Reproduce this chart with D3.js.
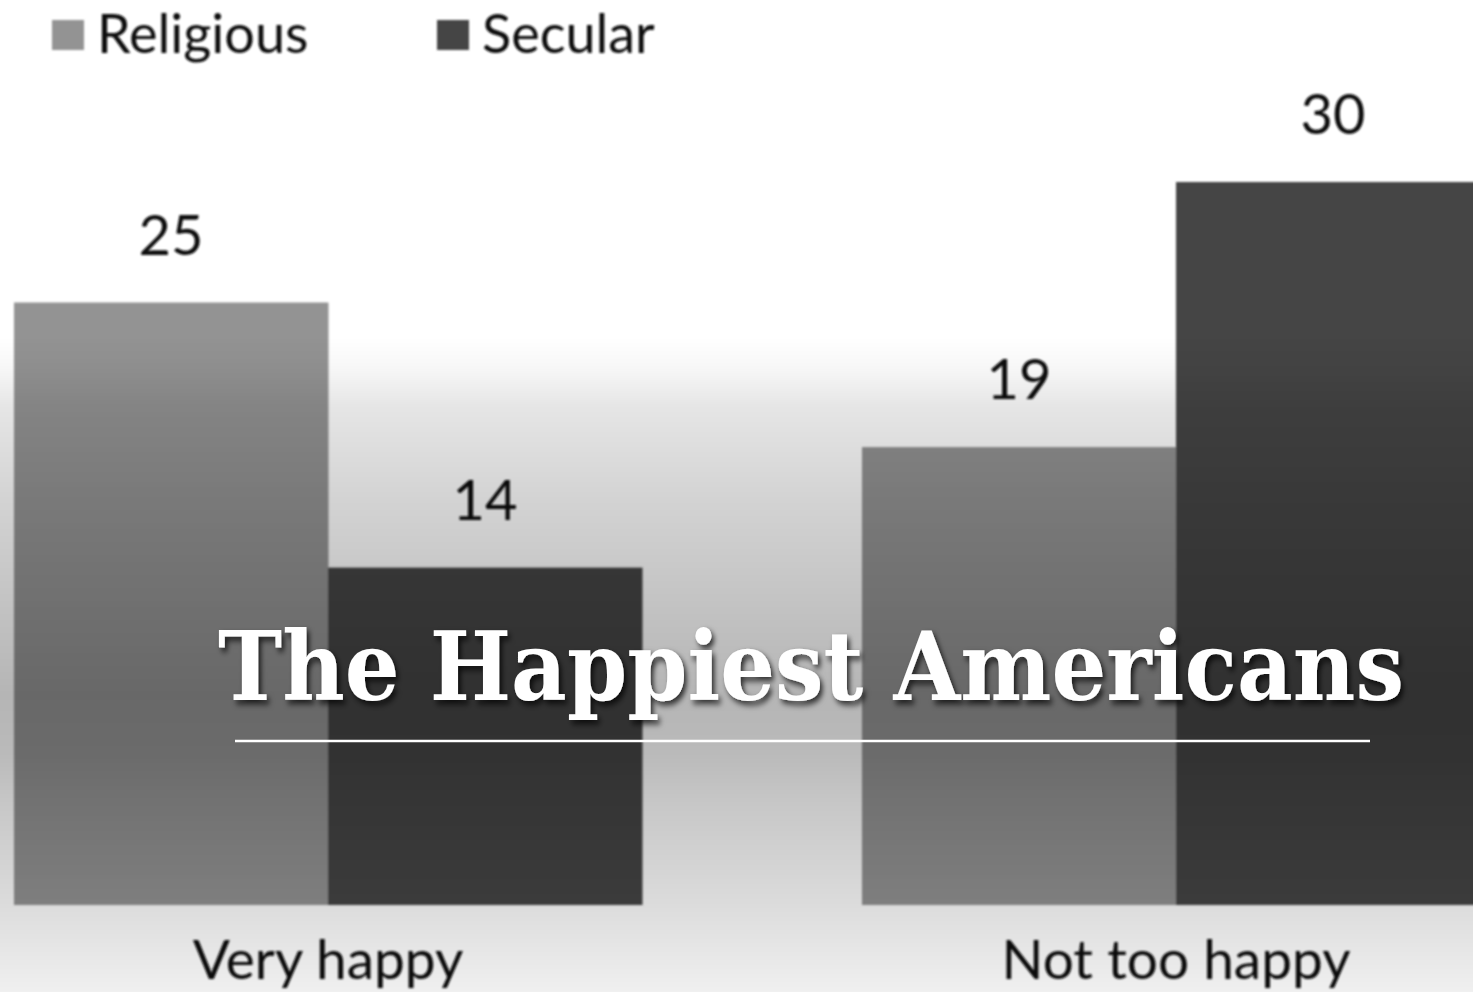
<!DOCTYPE html>
<html>
<head>
<meta charset="utf-8">
<script src="https://cdn.jsdelivr.net/npm/d3@7"></script>
<style>
  html, body { margin: 0; padding: 0; background: #fff; overflow: hidden; }
  svg { display: block; }
  .lbl { font-family: Lato, "Open Sans", sans-serif; fill: #111; }
</style>
</head>
<body>
<div id="chart"></div>
<script>
// Survey responses (%)
const categories = ["Very happy", "Not too happy"];
const seriesNames = ["Religious", "Secular"];
const religious = [25, 19];
const secular = [14, 30];
const seriesColors = ["#939393", "#454545"];
const title = "The Happiest Americans";

const W = 1473, H = 992;
const base = 905;

const svg = d3.select("#chart").append("svg")
  .attr("width", W).attr("height", H);

const defs = svg.append("defs");
defs.append("filter").attr("id", "soft")
  .append("feGaussianBlur").attr("stdDeviation", 1.1);
const shadow = defs.append("filter").attr("id", "shadow")
  .attr("x", "-5%").attr("y", "-20%").attr("width", "110%").attr("height", "150%");
shadow.append("feDropShadow").attr("dx", 3).attr("dy", 4)
  .attr("stdDeviation", 3).attr("flood-color", "#000").attr("flood-opacity", 0.75);

// dark band behind the title, fading out towards the top
const shade = defs.append("linearGradient").attr("id", "shade")
  .attr("gradientUnits", "userSpaceOnUse")
  .attr("x1", 0).attr("y1", 0).attr("x2", 0).attr("y2", H);
[[0, 0], [0.34, 0], [0.37, 0.03], [0.41, 0.10], [0.50, 0.17], [0.60, 0.23],
 [0.70, 0.29], [0.76, 0.27], [0.81, 0.22], [0.91, 0.14], [1, 0.06]]
  .forEach(([o, a]) => shade.append("stop").attr("offset", o)
    .attr("stop-color", "#000").attr("stop-opacity", a));

svg.append("rect").attr("width", W).attr("height", H).attr("fill", "#fff");

const x = d3.scaleBand().domain(categories).range([14, 1490])
  .paddingInner(220 / 848).paddingOuter(0);
const sub = d3.scaleBand().domain(seriesNames).range([0, x.bandwidth()]).padding(0);
const y = d3.scaleLinear().domain([0, 30]).range([base, 182]);

const data = [religious, secular];
const g = svg.append("g").attr("filter", "url(#soft)");

data.forEach((vals, si) => {
  const name = seriesNames[si];
  g.append("g").selectAll("rect").data(vals).enter().append("rect")
    .attr("x", (_, i) => x(categories[i]) + sub(name))
    .attr("y", d => y(d))
    .attr("width", sub.bandwidth() + 0.5)
    .attr("height", d => base - y(d))
    .attr("fill", seriesColors[si]);
  g.append("g").selectAll("text").data(vals).enter().append("text")
    .attr("class", "lbl")
    .attr("x", (_, i) => x(categories[i]) + sub(name) + sub.bandwidth() / 2)
    .attr("y", d => y(d) - 48)
    .attr("text-anchor", "middle")
    .attr("font-size", 56)
    .text(d => d);
});

// category axis labels
const xAxis = g.append("g").attr("transform", `translate(0,${base})`)
  .call(d3.axisBottom(x).tickSize(0).tickPadding(0));
xAxis.select(".domain").remove();
xAxis.selectAll("text")
  .attr("class", "lbl").attr("fill", "#111")
  .attr("font-size", 55).attr("dy", 0).attr("y", 74);

// legend
const legendX = [52, 437];
const leg = g.append("g");
seriesNames.forEach((n, i) => {
  leg.append("rect").attr("x", legendX[i]).attr("y", 20)
    .attr("width", 32).attr("height", 30).attr("fill", seriesColors[i]);
  leg.append("text").attr("class", "lbl")
    .attr("x", legendX[i] + 45).attr("y", 53)
    .attr("font-size", 54).text(n);
});

svg.append("rect").attr("width", W).attr("height", H).attr("fill", "url(#shade)");

// title overlay, squeezed horizontally to the reference width
const titleText = svg.append("text")
  .attr("text-anchor", "middle")
  .attr("font-family", "'DejaVu Serif', serif")
  .attr("font-weight", "bold")
  .attr("font-size", 96)
  .attr("fill", "#fff")
  .attr("filter", "url(#shadow)")
  .text(title);
const natural = titleText.node().getComputedTextLength();
titleText.attr("transform", `translate(811,700) scale(${1186 / natural},1)`);

svg.append("line")
  .attr("x1", 235).attr("x2", 1370).attr("y1", 741).attr("y2", 741)
  .attr("stroke", "#fff").attr("stroke-width", 2.5);
</script>
</body>
</html>
